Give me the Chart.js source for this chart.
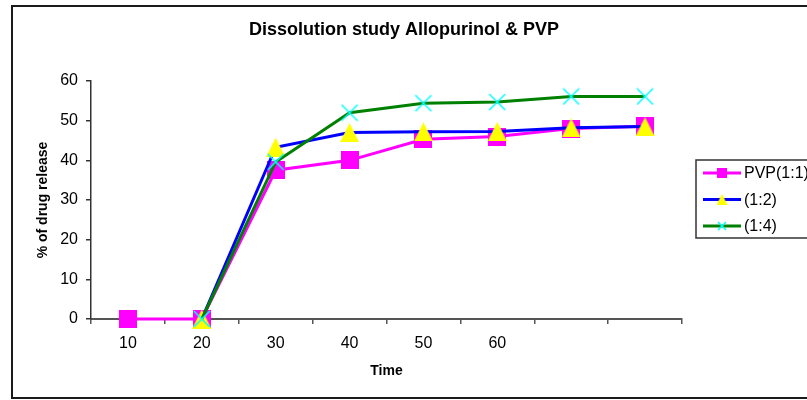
<!DOCTYPE html>
<html>
<head>
<meta charset="utf-8">
<script src="https://cdn.jsdelivr.net/npm/chart.js@4.4.1/dist/chart.umd.min.js"></script>
<style>
  html, body { margin: 0; padding: 0; background: #fff; }
</style>
</head>
<body>
<canvas id="dissolution" width="807" height="400"></canvas>
<script>
  // data
  const timeLabels = ['10', '20', '30', '40', '50', '60', '', ''];
  const pvp11 = [0, 0, 37.5, 40, 45.3, 46, 48, 48.6];
  const pvp12 = [null, 0, 43.3, 47, 47.2, 47.3, 48.2, 48.5];
  const pvp14 = [null, 0, 39.6, 52, 54.4, 54.7, 56.1, 56.1];
  const seriesNames = ['PVP(1:1)', '(1:2)', '(1:4)'];
  const yTicks = [0, 10, 20, 30, 40, 50, 60];
  const chartTitle = 'Dissolution study Allopurinol & PVP';

  const FONT = "'Liberation Sans', Arial, sans-serif";

  // excel-like markers as small canvases
  function marker(kind, w, h) {
    const c = document.createElement('canvas');
    c.width = w; c.height = h;
    const g = c.getContext('2d');
    if (kind === 'square') {
      g.fillStyle = '#FF00FF';
      g.fillRect(0, 0, w, h);
    } else if (kind === 'triangle') {
      g.fillStyle = '#FFFF00';
      g.beginPath();
      g.moveTo(w / 2, 0); g.lineTo(w, h); g.lineTo(0, h);
      g.closePath(); g.fill();
    } else {
      g.strokeStyle = '#00FFFF';
      g.lineWidth = 1.5;
      g.beginPath();
      g.moveTo(1, 1); g.lineTo(w - 1, h - 1);
      g.moveTo(w - 1, 1); g.lineTo(1, h - 1);
      g.stroke();
    }
    return c;
  }

  const bigMarks = [marker('square', 18, 18), marker('triangle', 19, 19), marker('cross', 18, 18)];
  const smallMarks = [marker('square', 10, 10), marker('triangle', 11, 11), marker('cross', 10, 10)];

  // frame, title and boxed legend, drawn like the excel original
  const boxLegend = {
    id: 'boxLegend',
    afterDraw(chart) {
      const ctx = chart.ctx;
      ctx.save();
      ctx.strokeStyle = '#1a1a1a';
      ctx.lineWidth = 2;
      ctx.strokeRect(12, 6, 820, 392);

      ctx.fillStyle = '#000';
      ctx.font = 'bold 18px ' + FONT;
      ctx.textAlign = 'center';
      ctx.textBaseline = 'middle';
      ctx.fillText(chartTitle, 404, 30);

      ctx.lineWidth = 1.5;
      ctx.strokeStyle = '#333';
      ctx.strokeRect(696, 160, 130, 78);
      ctx.textAlign = 'left';
      chart.data.datasets.forEach((ds, i) => {
        const y = 173 + i * 26.5;
        ctx.strokeStyle = ds.borderColor;
        ctx.lineWidth = 3;
        ctx.beginPath();
        ctx.moveTo(703, y); ctx.lineTo(741, y);
        ctx.stroke();
        const m = smallMarks[i];
        ctx.drawImage(m, 722 - m.width / 2, y - m.height / 2);
        ctx.fillStyle = '#000';
        ctx.font = '16px ' + FONT;
        ctx.fillText(ds.label, 744, y + 1);
      });
      ctx.restore();
    }
  };

  new Chart(document.getElementById('dissolution'), {
    type: 'line',
    data: {
      labels: timeLabels,
      datasets: [
        { label: seriesNames[0], data: pvp11, borderColor: '#FF00FF', borderWidth: 3,
          pointStyle: bigMarks[0], pointRadius: 9, order: 3, clip: false },
        { label: seriesNames[1], data: pvp12, borderColor: '#0000FF', borderWidth: 3,
          pointStyle: bigMarks[1], pointRadius: 9, order: 2, clip: false },
        { label: seriesNames[2], data: pvp14, borderColor: '#008000', borderWidth: 3,
          pointStyle: bigMarks[2], pointRadius: 9, order: 1, clip: false }
      ]
    },
    options: {
      responsive: false,
      animation: false,
      events: [],
      layout: { padding: { left: 35, right: 125, top: 81, bottom: 20 } },
      plugins: {
        legend: { display: false },
        tooltip: { enabled: false },
        title: { display: false }
      },
      scales: {
        x: {
          offset: true,
          grid: { offset: true, drawOnChartArea: false, tickLength: 5, color: '#555', lineWidth: 1.5 },
          border: { color: '#555', width: 2 },
          ticks: { color: '#000', font: { family: FONT, size: 16 }, padding: 10, maxRotation: 0, autoSkip: false },
          title: { display: true, text: 'Time', color: '#000', font: { family: FONT, size: 14, weight: 'bold' }, padding: 0 },
          afterFit(s) { s.height = 61; }
        },
        y: {
          min: 0,
          max: 60,
          afterBuildTicks(s) { s.ticks = yTicks.map(v => ({ value: v })); },
          grid: { drawOnChartArea: false, tickLength: 5, color: '#333', lineWidth: 1.5 },
          border: { color: '#333', width: 1.5 },
          ticks: { color: '#000', font: { family: FONT, size: 16 }, padding: 8 },
          title: { display: true, text: '% of drug release', color: '#000', font: { family: FONT, size: 14, weight: 'bold' }, padding: 0 },
          afterFit(s) { s.width = 56; }
        }
      }
    },
    plugins: [boxLegend]
  });
</script>
</body>
</html>
